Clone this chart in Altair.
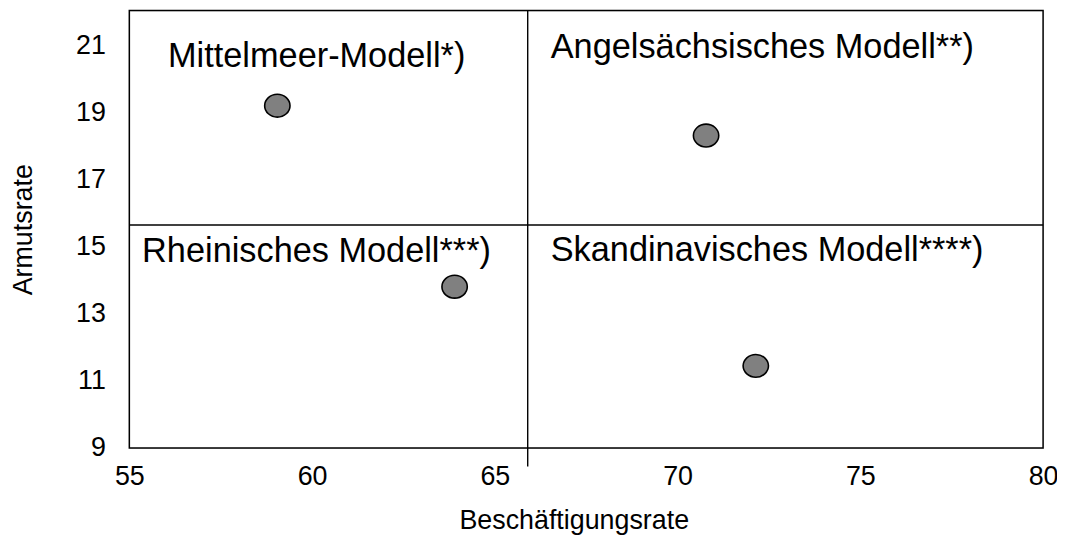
import altair as alt
import pandas as pd

# Data
models = ["Mittelmeer", "Angelsächsisch", "Rheinisch", "Skandinavisch"]
employment = [59.05, 70.78, 63.9, 72.14]
poverty = [19.21, 18.32, 13.81, 11.45]

labels = ["Mittelmeer-Modell*)", "Angelsächsisches Modell**)",
          "Rheinisches Modell***)", "Skandinavisches Modell****)"]
label_x = [56.06, 66.53, 55.35, 66.53]
label_y = [20.37, 20.64, 14.55, 14.58]

# Quadrant dividers
div_x = 65.9
div_y = 15.65
x_min, x_max = 55, 80
y_min, y_max = 9, 22.05
div_x_bottom = 8.45  # vertical divider extends slightly below the frame

x_ticks = [55, 60, 65, 70, 75, 80]
y_ticks = [9, 11, 13, 15, 17, 19, 21]

FONT = "Liberation Sans"
ELLIPSE = "M-1,0 A1,0.9 0 1,0 1,0 A1,0.9 0 1,0 -1,0 Z"

pts = pd.DataFrame({"model": models, "x": employment, "y": poverty})
lab = pd.DataFrame({"text": labels, "x": label_x, "y": label_y})
vline = pd.DataFrame({"x": [div_x], "y": [div_x_bottom], "y2": [y_max]})
hline = pd.DataFrame({"x": [x_min], "x2": [x_max], "y": [div_y]})
frame = pd.DataFrame({"x": [x_min], "x2": [x_max], "y": [y_min], "y2": [y_max]})

xscale = alt.Scale(domain=[x_min, x_max], nice=False, zero=False)
yscale = alt.Scale(domain=[y_min, y_max], nice=False, zero=False)

xaxis = alt.Axis(values=x_ticks, title="Beschäftigungsrate", domain=False, ticks=False,
                 grid=False, labelFontSize=27, labelFont=FONT, labelColor="black",
                 labelPadding=16, labelFlush=False, titleFont=FONT, titleFontSize=27,
                 titleFontWeight="normal", titleColor="black", titleX=447, titleY=81,
                 titleBaseline="alphabetic", titleAlign="center")
yaxis = alt.Axis(values=y_ticks, title="Armutsrate", domain=False, ticks=False,
                 grid=False, labelFontSize=27, labelFont=FONT, labelColor="black",
                 labelPadding=24, labelFlush=False, titleFont=FONT, titleFontSize=27,
                 titleFontWeight="normal", titleColor="black", titleX=-98, titleY=220,
                 titleBaseline="alphabetic", titleAngle=-90, titleAlign="center")

box = alt.Chart(frame).mark_rect(fill="white", fillOpacity=0, stroke="black",
                                 strokeWidth=1.5).encode(
    x=alt.X("x:Q", scale=xscale, axis=xaxis), x2="x2:Q",
    y=alt.Y("y:Q", scale=yscale, axis=yaxis), y2="y2:Q")

points = alt.Chart(pts).mark_point(filled=True, shape=ELLIPSE, size=650, fill="#808080",
                                   stroke="black", strokeWidth=1.6, opacity=1).encode(
    x=alt.X("x:Q", scale=xscale),
    y=alt.Y("y:Q", scale=yscale),
)

texts = alt.Chart(lab).mark_text(align="left", baseline="alphabetic", fontSize=34.5,
                                 font=FONT, color="black").encode(
    x=alt.X("x:Q", scale=xscale), y=alt.Y("y:Q", scale=yscale), text="text:N")

vrule = alt.Chart(vline).mark_rule(color="black", strokeWidth=1.4).encode(
    x=alt.X("x:Q", scale=xscale), y=alt.Y("y:Q", scale=yscale), y2="y2:Q")
hrule = alt.Chart(hline).mark_rule(color="black", strokeWidth=1.4).encode(
    x=alt.X("x:Q", scale=xscale), x2="x2:Q", y=alt.Y("y:Q", scale=yscale))

chart = alt.layer(box, vrule, hrule, points, texts).properties(
    width=919, height=440,
    autosize=alt.AutoSizeParams(type="none"),
    padding={"left": 122, "top": 1, "right": 14, "bottom": 86},
).configure_view(stroke=None).configure(background="white")

chart.save("out.html", embed_options={"renderer": "svg", "actions": False})
